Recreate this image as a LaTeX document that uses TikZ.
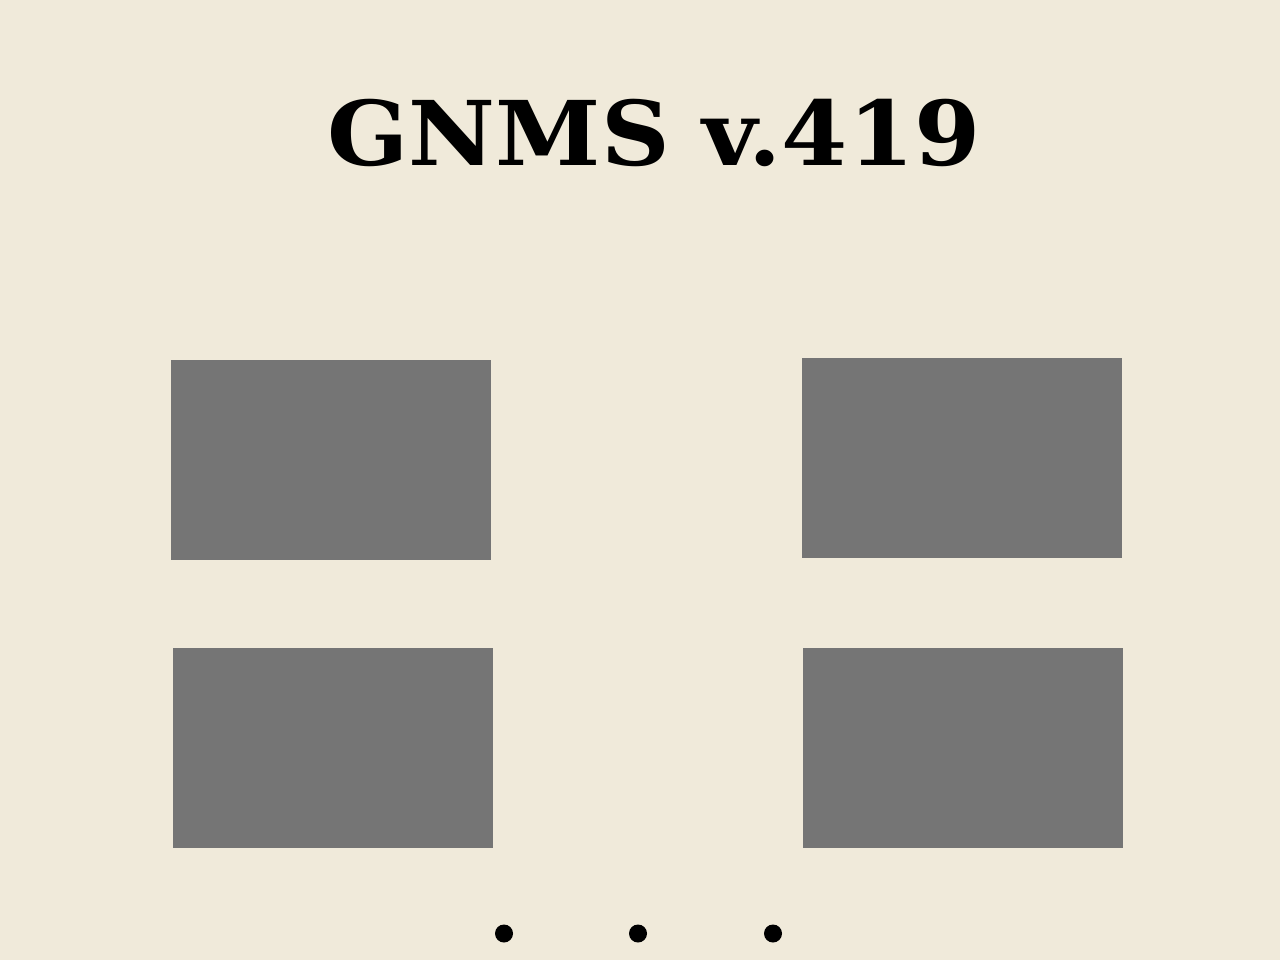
\documentclass[tikz,border=0pt]{standalone}
\usepackage{fontspec}
\setmainfont{DejaVu Serif}
\definecolor{paper}{HTML}{F0EADA}
\definecolor{slab}{HTML}{757575}
\tikzset{
  panel/.style={fill=slab, inner sep=0pt, minimum width=240pt, minimum height=150pt},
  dot/.style={circle, fill=black, inner sep=0pt, minimum size=13.5pt}
}

\begin{document}
\begin{tikzpicture}[x=0.75pt, y=-0.75pt]
  \fill[paper] (0,0) rectangle (1280,960);
  \useasboundingbox (0,0) rectangle (1280,960);
  \node[anchor=base, inner sep=0pt, xscale=1.065, font=\fontsize{67}{72}\selectfont\bfseries] (title) at (654,165) {GNMS v.419};
  \node[panel] (p1) at (331,460) {};
  \node[panel] (p2) at (962,458) {};
  \node[panel] (p3) at (333,748) {};
  \node[panel] (p4) at (963,748) {};
  \foreach \i/\x in {1/504,2/638,3/773} {
    \node[dot] (d\i) at (\x,933.5) {};
  }
\end{tikzpicture}
\end{document}
